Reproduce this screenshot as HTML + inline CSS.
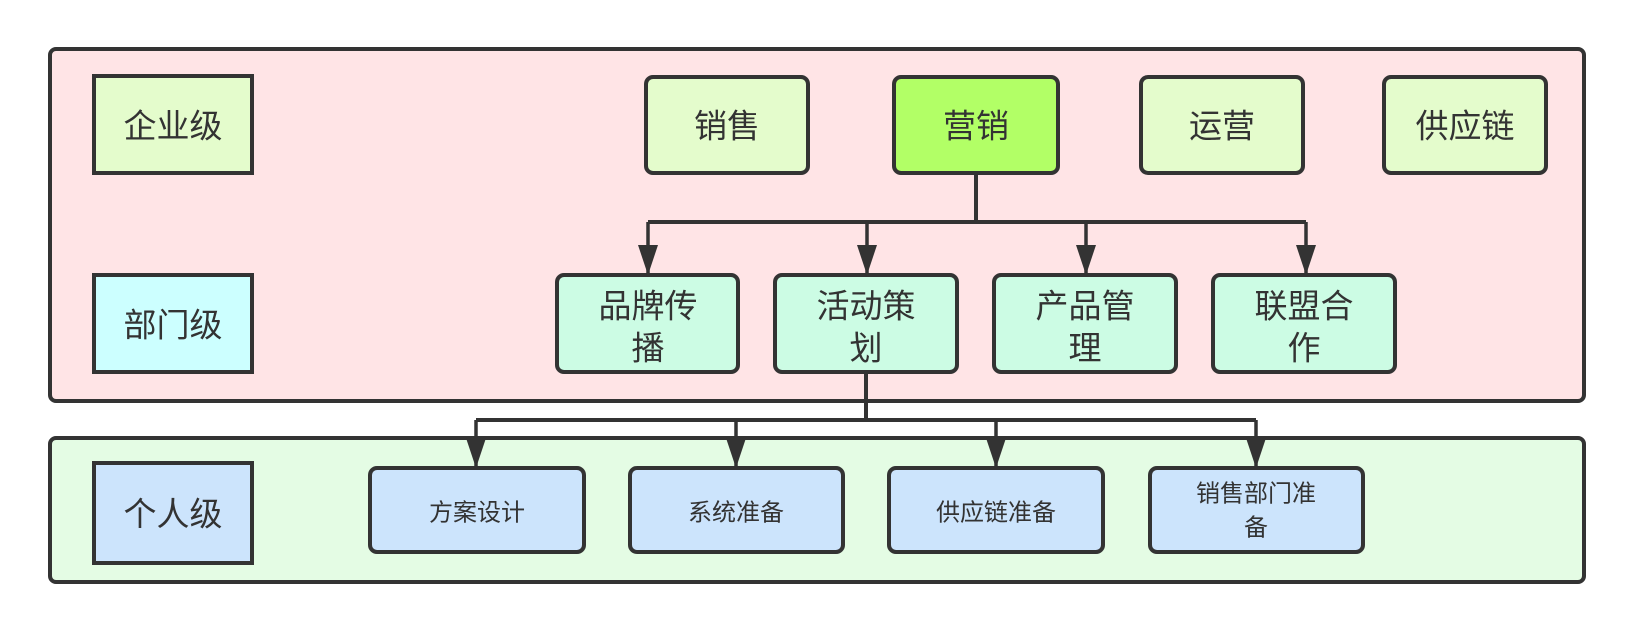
<!DOCTYPE html>
<html><head><meta charset="utf-8"><style>
body{margin:0;background:#fff;}
svg text{font-family:"Liberation Sans","Noto Sans CJK SC",sans-serif;fill:#333;text-anchor:middle;dominant-baseline:central;}
</style></head><body>
<svg width="1626" height="630" viewBox="0 0 1626 630" xmlns="http://www.w3.org/2000/svg">
<defs><marker id="a" markerWidth="10" markerHeight="14" refX="5" refY="13" orient="auto" markerUnits="userSpaceOnUse" viewBox="0 0 10 14"><path d="M0,0 L10,0 L5,14 z" fill="#333"/></marker>
<marker id="b" viewBox="0 0 20 30" refX="10" refY="30" markerWidth="20" markerHeight="30" markerUnits="userSpaceOnUse"><path d="M0,0 L20,0 L10,30 z" fill="#333"/></marker></defs>
<g stroke="#333" stroke-width="4">
<rect x="50" y="49" width="1534" height="352" rx="6" fill="#ffe4e6"/>
<rect x="50" y="438" width="1534" height="144" rx="6" fill="#e4fce4"/>
<rect x="94" y="76" width="158" height="97" fill="#e4fccc"/>
<rect x="94" y="275" width="158" height="97" fill="#ccffff"/>
<rect x="94" y="463" width="158" height="100" fill="#cce4fc"/>
<rect x="646" y="77" width="162" height="96" rx="7" fill="#e4fccc"/>
<rect x="894" y="77" width="164" height="96" rx="7" fill="#b2ff66"/>
<rect x="1141" y="77" width="162" height="96" rx="7" fill="#e4fccc"/>
<rect x="1384" y="77" width="162" height="96" rx="7" fill="#e4fccc"/>
<rect x="557" y="275" width="181" height="97" rx="7" fill="#ccfce4"/>
<rect x="775" y="275" width="182" height="97" rx="7" fill="#ccfce4"/>
<rect x="994" y="275" width="182" height="97" rx="7" fill="#ccfce4"/>
<rect x="1213" y="275" width="182" height="97" rx="7" fill="#ccfce4"/>
<rect x="370" y="468" width="214" height="84" rx="7" fill="#cce4fc"/>
<rect x="630" y="468" width="213" height="84" rx="7" fill="#cce4fc"/>
<rect x="889" y="468" width="214" height="84" rx="7" fill="#cce4fc"/>
<rect x="1150" y="468" width="213" height="84" rx="7" fill="#cce4fc"/>
<g fill="none">
<path d="M976,173 V222 M648,222 H1306"/>
<path d="M866,372 V420 M476,420 H1256"/>
</g>
<g fill="none" stroke-width="3.5">
<path d="M648,222 V275" marker-end="url(#b)"/>
<path d="M867,222 V275" marker-end="url(#b)"/>
<path d="M1086,222 V275" marker-end="url(#b)"/>
<path d="M1306,222 V275" marker-end="url(#b)"/>
<path d="M476,420 V468" marker-end="url(#b)"/>
<path d="M736,420 V468" marker-end="url(#b)"/>
<path d="M996,420 V468" marker-end="url(#b)"/>
<path d="M1256,420 V468" marker-end="url(#b)"/>
</g>
</g>
<g font-size="33">
<text x="173" y="126">企业级</text>
<text x="173" y="325">部门级</text>
<text x="173" y="514">个人级</text>
<text x="727" y="126">销售</text>
<text x="976" y="126">营销</text>
<text x="1222" y="126">运营</text>
<text x="1465" y="126">供应链</text>
<text x="648" y="306">品牌传</text><text x="648" y="348">播</text>
<text x="866" y="306">活动策</text><text x="866" y="348">划</text>
<text x="1085" y="306">产品管</text><text x="1085" y="348">理</text>
<text x="1304" y="306">联盟合</text><text x="1304" y="348">作</text>
</g>
<g font-size="24">
<text x="477" y="513">方案设计</text>
<text x="736" y="513">系统准备</text>
<text x="996" y="513">供应链准备</text>
<text x="1256" y="494">销售部门准</text>
<text x="1256" y="528">备</text>
</g>
</svg>
</body></html>
